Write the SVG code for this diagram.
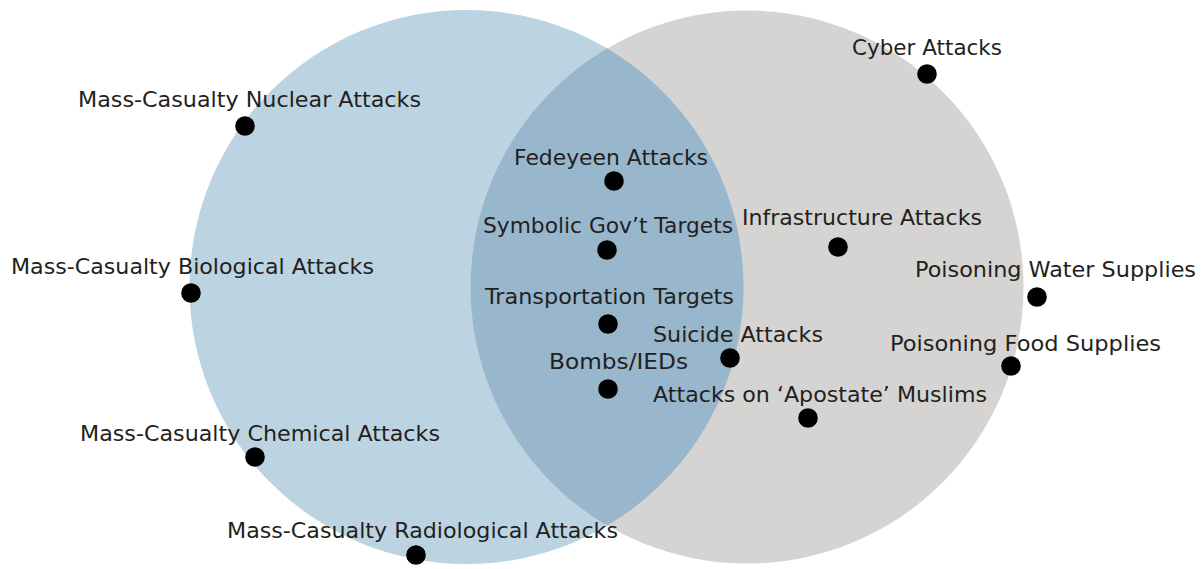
<svg xmlns="http://www.w3.org/2000/svg" width="1203" height="569" viewBox="0 0 1203 569">
  <style>
    .lbl { font-family: "DejaVu Sans", "Liberation Sans", sans-serif; font-size: 21.5px; fill: #231f20; }
    .dot { fill: #000000; }
  </style>
  <defs>
    <clipPath id="clipLeft">
      <circle cx="466.5" cy="287" r="277"/>
    </clipPath>
  </defs>
  <rect x="0" y="0" width="1203" height="569" fill="#ffffff"/>
  <g id="sets">
    <circle id="set-left" cx="466.5" cy="287" r="277" fill="#bcd4e1"/>
    <circle id="set-right" cx="747" cy="287" r="276.5" fill="#d5d4d3"/>
    <circle id="set-overlap" cx="747" cy="287" r="276.5" fill="#98b6cc" clip-path="url(#clipLeft)"/>
  </g>
  <g id="node-cyber">
    <text class="lbl" x="852" y="55" textLength="150" lengthAdjust="spacingAndGlyphs">Cyber Attacks</text>
    <circle class="dot" cx="927" cy="74" r="9.8"/>
  </g>
  <g id="node-nuclear">
    <text class="lbl" x="78" y="107" textLength="343" lengthAdjust="spacingAndGlyphs">Mass-Casualty Nuclear Attacks</text>
    <circle class="dot" cx="245" cy="126" r="9.8"/>
  </g>
  <g id="node-fedeyeen">
    <text class="lbl" x="514" y="165" textLength="194" lengthAdjust="spacingAndGlyphs">Fedeyeen Attacks</text>
    <circle class="dot" cx="614" cy="181" r="9.8"/>
  </g>
  <g id="node-symbolic">
    <text class="lbl" x="483" y="233" textLength="250" lengthAdjust="spacingAndGlyphs">Symbolic Gov’t Targets</text>
    <circle class="dot" cx="607" cy="250" r="9.8"/>
  </g>
  <g id="node-infrastructure">
    <text class="lbl" x="742" y="225" textLength="240" lengthAdjust="spacingAndGlyphs">Infrastructure Attacks</text>
    <circle class="dot" cx="838" cy="247" r="9.8"/>
  </g>
  <g id="node-biological">
    <text class="lbl" x="11" y="274" textLength="363" lengthAdjust="spacingAndGlyphs">Mass-Casualty Biological Attacks</text>
    <circle class="dot" cx="191" cy="293" r="9.8"/>
  </g>
  <g id="node-water">
    <text class="lbl" x="915" y="277" textLength="281" lengthAdjust="spacingAndGlyphs">Poisoning Water Supplies</text>
    <circle class="dot" cx="1037" cy="297" r="9.8"/>
  </g>
  <g id="node-transportation">
    <text class="lbl" x="485" y="304" textLength="249" lengthAdjust="spacingAndGlyphs">Transportation Targets</text>
    <circle class="dot" cx="608" cy="324" r="9.8"/>
  </g>
  <g id="node-suicide">
    <text class="lbl" x="653" y="342" textLength="170" lengthAdjust="spacingAndGlyphs">Suicide Attacks</text>
    <circle class="dot" cx="730" cy="358" r="9.8"/>
  </g>
  <g id="node-food">
    <text class="lbl" x="890" y="351" textLength="271" lengthAdjust="spacingAndGlyphs">Poisoning Food Supplies</text>
    <circle class="dot" cx="1011" cy="366" r="9.8"/>
  </g>
  <g id="node-bombs">
    <text class="lbl" x="549" y="369" textLength="139" lengthAdjust="spacingAndGlyphs">Bombs/IEDs</text>
    <circle class="dot" cx="608" cy="389" r="9.8"/>
  </g>
  <g id="node-apostate">
    <text class="lbl" x="653" y="402" textLength="334" lengthAdjust="spacingAndGlyphs">Attacks on ‘Apostate’ Muslims</text>
    <circle class="dot" cx="808" cy="418" r="9.8"/>
  </g>
  <g id="node-chemical">
    <text class="lbl" x="80" y="441" textLength="360" lengthAdjust="spacingAndGlyphs">Mass-Casualty Chemical Attacks</text>
    <circle class="dot" cx="255" cy="457" r="9.8"/>
  </g>
  <g id="node-radiological">
    <text class="lbl" x="227" y="538" textLength="391" lengthAdjust="spacingAndGlyphs">Mass-Casualty Radiological Attacks</text>
    <circle class="dot" cx="416" cy="555" r="9.8"/>
  </g>
</svg>
